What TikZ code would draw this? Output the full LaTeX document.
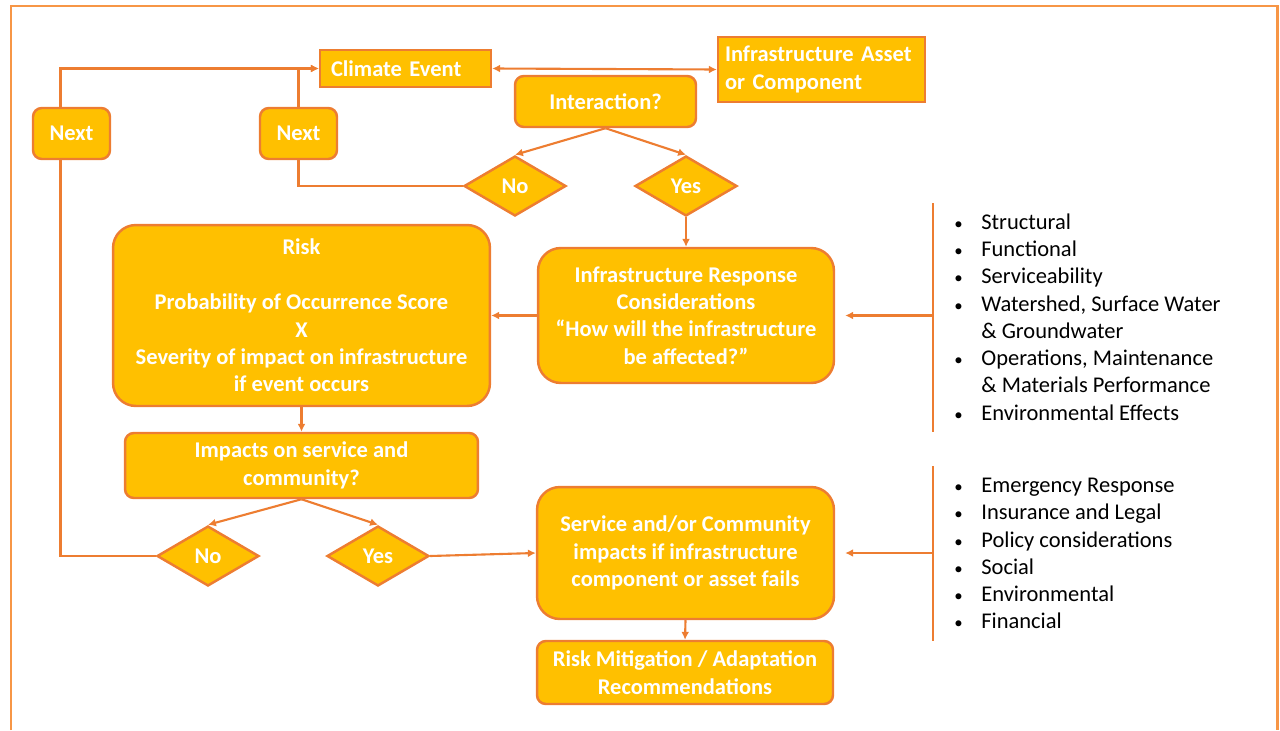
\documentclass[tikz,border=0pt]{standalone}
\usepackage{fontspec}
\setmainfont{Carlito}
\usetikzlibrary{shapes.geometric,arrows.meta}
\definecolor{boxfill}{HTML}{FFC000}
\definecolor{boxline}{HTML}{ED7D31}
\definecolor{framecol}{HTML}{F79646}
\newcommand\bitem[1]{\makebox[0.54cm][l]{\scalebox{0.75}{\textbullet}}#1}
\newcommand\bcont[1]{\hspace*{0.54cm}#1}
\tikzset{
	boxbase/.style={draw=boxline, fill=boxfill, line width=1.4pt, text=white, inner sep=2pt, font=\bfseries\fontsize{12.8}{15.6}\selectfont},
	sqbox/.style={boxbase, shape=rectangle, align=left},
	rbox/.style={boxbase, shape=rectangle, rounded corners=5pt, align=center},
	bigbox/.style={boxbase, shape=rectangle, rounded corners=13pt, align=center},
	dbox/.style={boxbase, shape=diamond, inner sep=0pt, minimum width=2.04cm, minimum height=1.2cm},
	listtext/.style={inner sep=0pt, align=left, text=black, font=\fontsize{12.8}{15.5}\selectfont},
	link/.style={draw=boxline, line width=1.2pt},
	arr/.style={link, -{Latex[length=4.5pt,width=4.5pt]}},
	twoarr/.style={link, {Latex[length=4.5pt,width=4.5pt]}-{Latex[length=4.5pt,width=4.5pt]}},
}
\begin{document}
\begin{tikzpicture}[x=0.02cm, y=-0.02cm]
	\useasboundingbox (0,0) rectangle (1280,730);
	\draw[framecol, line width=1.7pt] (11,730) |- (1277,6) -- (1277,730);
	\node[sqbox, minimum width=3.42cm, minimum height=0.74cm, text width=2.98cm, inner xsep=0.22cm](N1) at (405.5, 68.5){Climate Event};
	\node[sqbox, minimum width=4.14cm, minimum height=1.3cm, text width=3.86cm, inner xsep=0.14cm](N2) at (821.5, 69.5){Infrastructure Asset\\or Component};
	\node[rbox, minimum width=3.62cm, minimum height=1.02cm](N3) at (605.5, 101.5){Interaction?};
	\node[dbox](N4) at (515, 186){No};
	\node[dbox](N5) at (686, 186){Yes};
	\node[rbox, minimum width=1.54cm, minimum height=1.02cm](N6) at (71.5, 133.5){Next};
	\node[rbox, minimum width=1.54cm, minimum height=1.02cm](N7) at (298.5, 133.5){Next};
	\node[bigbox, minimum width=5.92cm, minimum height=2.7cm](N8) at (686, 315.5){Infrastructure Response\\Considerations\\“How will the infrastructure\\be affected?”};
	\node[bigbox, minimum width=7.54cm, minimum height=3.62cm](N9) at (301.5, 315.5){Risk\\~\\Probability of Occurrence Score\\X\\Severity of impact on infrastructure\\if event occurs};
	\node[rbox, minimum width=7.06cm, minimum height=1.3cm](N10) at (301.5, 465.5){Impacts on service and\\community?};
	\node[dbox](N11) at (208, 556){No};
	\node[dbox](N12) at (378, 556){Yes};
	\node[bigbox, minimum width=5.94cm, minimum height=2.64cm](N13) at (685.5, 553){Service and/or Community\\impacts if infrastructure\\component or asset fails};
	\node[rbox, minimum width=5.92cm, minimum height=1.26cm](N14) at (685, 672.5){Risk Mitigation / Adaptation\\Recommendations};
	\node[listtext, anchor=west](L1) at (954, 317){\bitem{Structural}\\\bitem{Functional}\\\bitem{Serviceability}\\\bitem{Watershed, Surface Water}\\\bcont{\& Groundwater}\\\bitem{Operations, Maintenance}\\\bcont{\& Materials Performance}\\\bitem{Environmental Effects}};
	\node[listtext, anchor=west](L2) at (954, 553.5){\bitem{Emergency Response}\\\bitem{Insurance and Legal}\\\bitem{Policy considerations}\\\bitem{Social}\\\bitem{Environmental}\\\bitem{Financial}};
	\coordinate (B1) at (933, 203);
	\coordinate (B2) at (933, 432);
	\coordinate (B3) at (933, 466);
	\coordinate (B4) at (933, 641);
	\draw[twoarr] (N1.east) -- (N2.west);
	\draw[arr] (N3.south) -- (N4.north);
	\draw[arr] (N3.south) -- (N5.north);
	\draw[link] (N4.west) -| (N7.south);
	\draw[arr] (N7.north) |- (N1.west);
	\draw[arr] ([xshift=-0.22cm]N6.north) |- (N1.west);
	\draw[link] (N11.west) -| ([xshift=-0.22cm]N6.south);
	\draw[arr] (N5.south) -- (N8.north);
	\draw[arr] (N8.west) -- (N9.east);
	\draw[arr] (N9.south) -- (N10.north);
	\draw[arr] (N10.south) -- (N11.north);
	\draw[arr] (N10.south) -- (N12.north);
	\draw[arr] (N12.east) -- (N13.west);
	\draw[arr] (N13.south) -- (N14.north);
	\draw[link] (B1) -- (B2);
	\draw[arr, shorten >=0.2cm] (N8.east -| B1) -- (N8.east);
	\draw[link] (B3) -- (B4);
	\draw[arr, shorten >=0.2cm] (N13.east -| B3) -- (N13.east);
\end{tikzpicture}
\end{document}
